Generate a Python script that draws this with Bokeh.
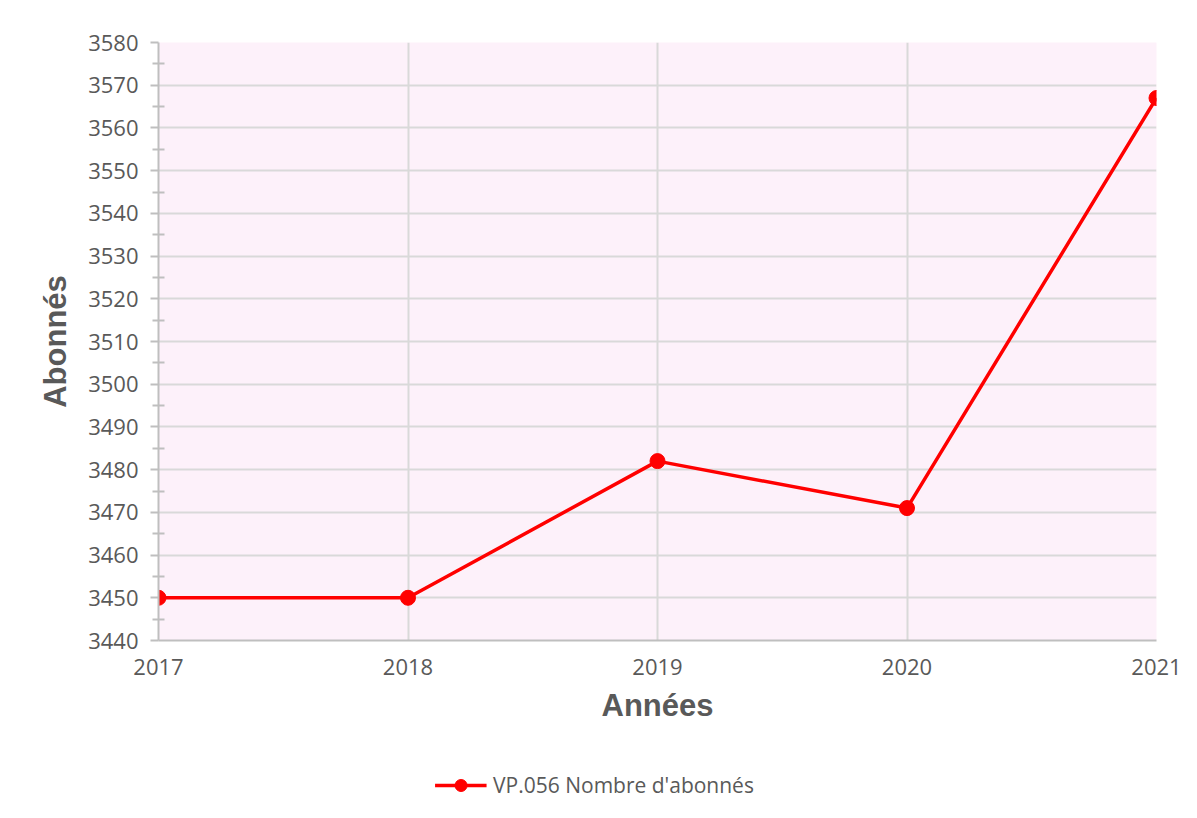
from bokeh.plotting import figure
from bokeh.layouts import column
from bokeh.models import FixedTicker, Legend, LegendItem, Range1d
from bokeh.embed import file_html
from bokeh.resources import INLINE

years = [2017, 2018, 2019, 2020, 2021]
abonnes = [3450, 3450, 3482, 3471, 3567]
series_name = "VP.056 Nombre d'abonnés"
y_ticks = list(range(3440, 3581, 10))
y_minor = list(range(3445, 3580, 10))

RED = "#FF0000"

p = figure(frame_width=998, frame_height=598, output_backend="svg", toolbar_location=None,
           x_range=Range1d(2017, 2021), y_range=Range1d(3440, 3580),
           min_border_left=158, min_border_right=33, min_border_top=42, min_border_bottom=100)
p.background_fill_color = "#FDF1FA"
p.border_fill_color = "white"
p.outline_line_color = None

p.line(years, abonnes, line_color=RED, line_width=3.5)
p.scatter(years, abonnes, size=15, fill_color=RED, line_color=RED)

for ax in (p.xaxis[0], p.yaxis[0]):
    ax.axis_line_color = "#BFBFBF"
    ax.axis_line_width = 2
    ax.major_tick_line_color = "#BFBFBF"
    ax.major_tick_line_width = 2
    ax.minor_tick_line_color = "#BFBFBF"
    ax.minor_tick_line_width = 2
    ax.major_label_text_font = "Open Sans"
    ax.major_label_text_font_size = "22px"
    ax.major_label_text_color = "#595959"
    ax.axis_label_text_font = "Liberation Sans"
    ax.axis_label_text_font_style = "bold"
    ax.axis_label_text_font_size = "31px"
    ax.axis_label_text_color = "#595959"

p.xaxis.ticker = FixedTicker(ticks=years)
p.xaxis.major_tick_out = 0
p.xaxis.major_tick_in = 0
p.xaxis.minor_tick_out = 0
p.xaxis.minor_tick_in = 0
p.xaxis.major_label_standoff = 18
p.xaxis.axis_label = "Années"
p.xaxis.axis_label_standoff = 10

p.yaxis.ticker = FixedTicker(ticks=y_ticks, minor_ticks=y_minor)
p.yaxis.major_tick_out = 8
p.yaxis.major_tick_in = 0
p.yaxis.minor_tick_out = 6
p.yaxis.minor_tick_in = 6
p.yaxis.major_label_standoff = 12
p.yaxis.axis_label = "Abonnés"
p.yaxis.axis_label_standoff = 12

p.xgrid.ticker = FixedTicker(ticks=years)
p.ygrid.ticker = FixedTicker(ticks=y_ticks)
p.xgrid.grid_line_color = "#D9D9D9"
p.ygrid.grid_line_color = "#D9D9D9"
p.xgrid.grid_line_width = 2
p.ygrid.grid_line_width = 2

# legend strip below the chart (same series, renderers kept out of view)
q = figure(frame_width=1131, frame_height=50, output_backend="svg", toolbar_location=None,
           x_range=Range1d(0, 1), y_range=Range1d(0, 1),
           x_axis_type=None, y_axis_type=None,
           min_border_left=58, min_border_right=0, min_border_top=20, min_border_bottom=0)
q.outline_line_color = None
q.background_fill_color = "white"
q.border_fill_color = "white"
lq = q.line(years, abonnes, line_color=RED, line_width=3.5)
sq = q.scatter(years, abonnes, size=15, fill_color=RED, line_color=RED)

legend = Legend(items=[LegendItem(label=series_name, renderers=[lq, sq])],
                location="center", orientation="horizontal",
                background_fill_alpha=0, border_line_color=None,
                label_text_font="Open Sans", label_text_font_size="21px",
                label_text_color="#595959", glyph_width=52, glyph_height=30,
                label_standoff=6)
q.add_layout(legend, "center")

layout = column(p, q, spacing=0)
open("out.html", "w").write(file_html(layout, INLINE))
